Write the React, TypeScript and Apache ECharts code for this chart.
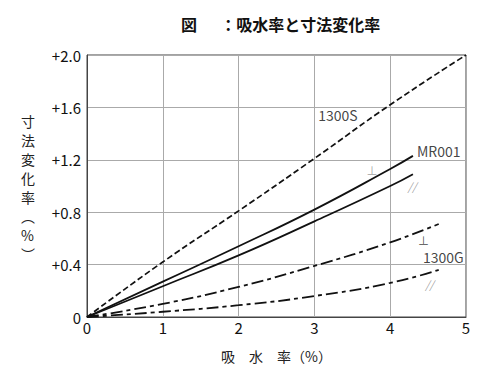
import React, { useEffect, useRef } from "react";
import * as echarts from "echarts";

const xTicks = [0, 1, 2, 3, 4, 5];
const s1300S: [number, number][] = [[0, 0], [1, 0.42], [2, 0.81], [3, 1.21], [4, 1.62], [5, 2.0]];
const mr001Perp: [number, number][] = [[0, 0], [1, 0.27], [2, 0.54], [3, 0.82], [4, 1.13], [4.3, 1.23]];
const mr001Para: [number, number][] = [[0, 0], [1, 0.235], [2, 0.47], [3, 0.73], [4, 1.0], [4.3, 1.09]];
const g1300Perp: [number, number][] = [[0, 0], [1, 0.1], [2, 0.23], [3, 0.39], [4, 0.57], [4.64, 0.71]];
const g1300Para: [number, number][] = [[0, 0], [1, 0.04], [2, 0.09], [3, 0.16], [4, 0.26], [4.64, 0.36]];
const annotations: { text: string; x: number; y: number; gray?: boolean }[] = [
  { text: "1300S", x: 3.31, y: 1.54 },
  { text: "MR001", x: 4.64, y: 1.27 },
  { text: "⊥", x: 3.76, y: 1.12, gray: true },
  { text: "//", x: 4.29, y: 1.0, gray: true },
  { text: "⊥", x: 4.44, y: 0.59 },
  { text: "1300G", x: 4.7, y: 0.46 },
  { text: "//", x: 4.52, y: 0.25, gray: true },
];

const FONT = "'Noto Sans CJK JP', 'Noto Sans', sans-serif";

export default function App() {
  const ref = useRef<HTMLDivElement>(null);
  useEffect(() => {
    const chart = echarts.init(ref.current!, null, { renderer: "svg" });
    const line = (data: [number, number][], type: any, width = 1.8) => ({
      type: "line",
      data,
      smooth: true,
      symbol: "none",
      lineStyle: { color: "#111", width, type },
      z: 3,
    });
    chart.setOption({
      animation: false,
      backgroundColor: "#fff",
      textStyle: { fontFamily: FONT },
      title: {
        text: "図　  ：吸水率と寸法変化率",
        left: 176,
        top: 11,
        textStyle: { fontSize: 16, fontWeight: "bold", color: "#111", fontFamily: FONT },
      },
      grid: { left: 87, right: 34, top: 55, bottom: 50, show: true, borderColor: "#444", borderWidth: 1 },
      xAxis: {
        type: "value",
        min: 0,
        max: 5,
        interval: 1,
        axisLine: { show: true, lineStyle: { color: "#444" } },
        axisTick: { show: false },
        splitLine: { show: true, lineStyle: { color: "#aaa", width: 1 } },
        axisLabel: { color: "#111", fontSize: 15, margin: 3, fontFamily: FONT },
        name: "吸　水　率（%）",
        nameLocation: "middle",
        nameGap: 32,
        nameTextStyle: { color: "#222", fontSize: 14, fontFamily: FONT },
      },
      yAxis: {
        type: "value",
        min: 0,
        max: 2,
        interval: 0.4,
        axisLine: { show: true, lineStyle: { color: "#444" } },
        axisTick: { show: false },
        splitLine: { show: true, lineStyle: { color: "#aaa", width: 1 } },
        axisLabel: {
          color: "#111",
          fontSize: 15,
          margin: 6,
          fontFamily: FONT,
          formatter: (v: number) => (v === 0 ? "0" : "+" + v.toFixed(1)),
        },
      },
      graphic: [
        {
          type: "text",
          left: 21,
          top: 111,
          style: {
            text: "寸\n法\n変\n化\n率\n︵\n%\n︶",
            fontSize: 14,
            lineHeight: 19,
            fill: "#222",
            fontFamily: FONT,
            align: "center",
          },
        },
      ],
      series: [
        line(s1300S, [6, 3], 1.7),
        line(mr001Perp, "solid"),
        line(mr001Para, "solid"),
        line(g1300Perp, [12, 4, 4, 4], 1.8),
        line(g1300Para, [12, 4, 4, 4], 1.8),
        {
          type: "scatter",
          symbolSize: 0,
          data: annotations.map((a) => ({
            value: [a.x, a.y],
            label: {
              show: true,
              position: "inside",
              formatter: a.text,
              fontSize: a.text === "⊥" ? 11 : a.gray ? 11 : 14,
              fontStyle: a.text === "//" ? "italic" : "normal",
              color: a.gray ? "#888" : "#111",
              fontFamily: FONT,
            },
          })),
          z: 4,
        },
      ],
    });
    return () => chart.dispose();
  }, []);
  return <div ref={ref} style={{ position: "absolute", left: 0, top: 0, width: 500, height: 368 }} />;
}
